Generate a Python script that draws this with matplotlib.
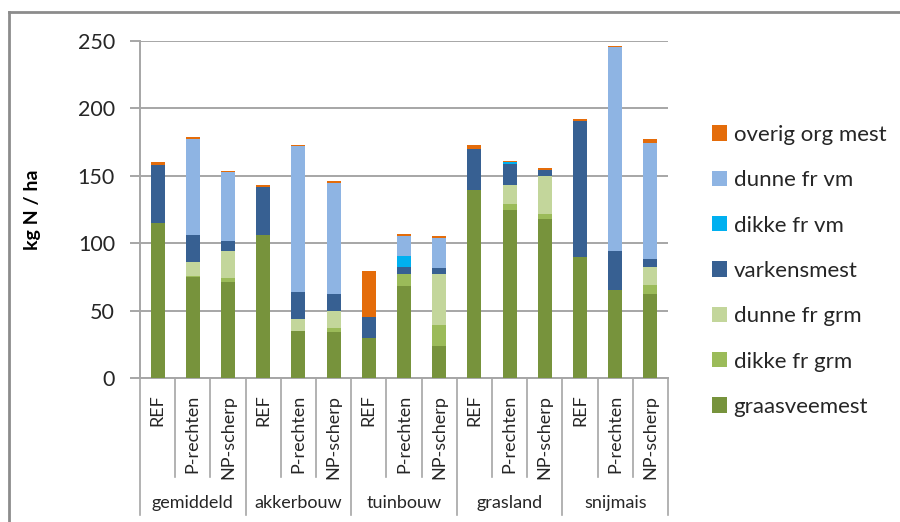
import matplotlib
matplotlib.use("Agg")
import matplotlib.pyplot as plt
import matplotlib.transforms as mtransforms
from matplotlib.patches import Patch
from matplotlib.lines import Line2D
import numpy as np

plt.rcParams['font.family'] = ['Lato', 'DejaVu Sans']

groups = ["gemiddeld", "akkerbouw", "tuinbouw", "grasland", "snijmais"]
scenarios = ["REF", "P-rechten", "NP-scherp"]

graasveemest = [115, 75, 71, 106, 34.5, 34, 30, 68, 24, 139.5, 124.5, 118, 89.5, 65, 62]
dikke_fr_grm = [0, 0.5, 3.5, 0, 0.5, 3, 0, 9, 15, 0, 4.5, 4, 0, 0, 7]
dunne_fr_grm = [0, 10.5, 20, 0, 9, 13, 0, 0, 38.5, 0, 14, 28, 0, 0, 13.5]
varkensmest = [43, 20, 7, 36, 20, 12, 15.5, 5.5, 4, 30.5, 16, 4.5, 101.5, 29, 5.5]
dikke_fr_vm = [0, 0, 0, 0, 0, 0, 0, 8, 0, 0, 1, 0, 0, 0, 0]
dunne_fr_vm = [0, 71.5, 51, 0, 108, 83, 0, 15, 22.5, 0, 0, 0, 0, 151.5, 86]
overig_org_mest = [2, 1, 1, 1.5, 1, 1, 34, 1, 1, 2.5, 1, 1.5, 1, 1, 3.5]

series = [
    ("graasveemest", graasveemest, "#77933C"),
    ("dikke fr grm", dikke_fr_grm, "#9BBB59"),
    ("dunne fr grm", dunne_fr_grm, "#C3D69B"),
    ("varkensmest", varkensmest, "#376092"),
    ("dikke fr vm", dikke_fr_vm, "#00B0F0"),
    ("dunne fr vm", dunne_fr_vm, "#8EB4E3"),
    ("overig org mest", overig_org_mest, "#E46C0A"),
]

W, H = 900, 522
fig = plt.figure(figsize=(W / 100, H / 100), dpi=100)
ax_l, ax_r, ax_t, ax_b = 140, 668, 41, 378
ax = fig.add_axes([ax_l / W, 1 - ax_b / H, (ax_r - ax_l) / W, (ax_b - ax_t) / H])

n = len(groups) * len(scenarios)
x = np.arange(n)
bottom = np.zeros(n)
handles = []
for name, vals, col in series:
    v = np.array(vals, dtype=float)
    ax.bar(x, v, width=0.4, bottom=bottom, color=col, edgecolor='none', zorder=3)
    bottom += v
    handles.append(Patch(facecolor=col, edgecolor='none', label=name))

gridc = "#A6A6A6"
ax.set_xlim(-0.5, n - 0.5)
ax.set_ylim(0, 250)
ax.set_yticks([0, 50, 100, 150, 200, 250])
ax.yaxis.grid(True, color=gridc, linewidth=1.4, zorder=0)
ax.set_axisbelow(True)
for s in ['top', 'right']:
    ax.spines[s].set_visible(False)
ax.spines['left'].set_color(gridc)
ax.spines['bottom'].set_color(gridc)
ax.spines['left'].set_linewidth(1.4)
ax.spines['bottom'].set_linewidth(1.4)
ax.tick_params(axis='y', length=7, width=1.4, color=gridc, pad=11, labelsize=15.5, labelcolor='#262626')

ax.set_xticks(x)
ax.set_xticklabels(scenarios * len(groups), rotation=90, fontsize=13, color='#262626')
ax.tick_params(axis='x', length=0, pad=12)

ax.set_ylabel("kg N / ha", fontsize=14, fontweight='bold', color='#000000')
ax.yaxis.set_label_coords((41 - ax_l) / (ax_r - ax_l), 0.5)

trans = mtransforms.blended_transform_factory(ax.transData, ax.transAxes)
hpx = ax_b - ax_t
sub_end = -(477 - ax_b) / hpx
grp_end = -(515 - ax_b) / hpx
for i in range(n + 1):
    xe = i - 0.5
    yend = grp_end if i % 3 == 0 else sub_end
    ax.add_line(Line2D([xe, xe], [0, yend], transform=trans, color=gridc,
                       linewidth=1.2, clip_on=False))
for g, name in enumerate(groups):
    ax.text(g * 3 + 1, -(503 - ax_b) / hpx, name, transform=trans, ha='center',
            va='center', fontsize=13, color='#262626')

leg = fig.legend(handles=handles[::-1], loc='upper left',
                 bbox_to_anchor=(703 / W, 1 - 116 / H), frameon=False,
                 fontsize=16, handlelength=0.68, handleheight=0.68,
                 handletextpad=0.3, labelspacing=1.14, borderaxespad=0)
for t in leg.get_texts():
    t.set_color('#262626')

# outer chart border (left and top visible)
fig.add_artist(Line2D([9 / W, 9 / W], [0, 1 - 12 / H], transform=fig.transFigure,
                      color='#8C8C8C', linewidth=2))
fig.add_artist(Line2D([9 / W, 1], [1 - 12 / H, 1 - 12 / H], transform=fig.transFigure,
                      color='#8C8C8C', linewidth=2))

fig.savefig("out.png", dpi=100)
